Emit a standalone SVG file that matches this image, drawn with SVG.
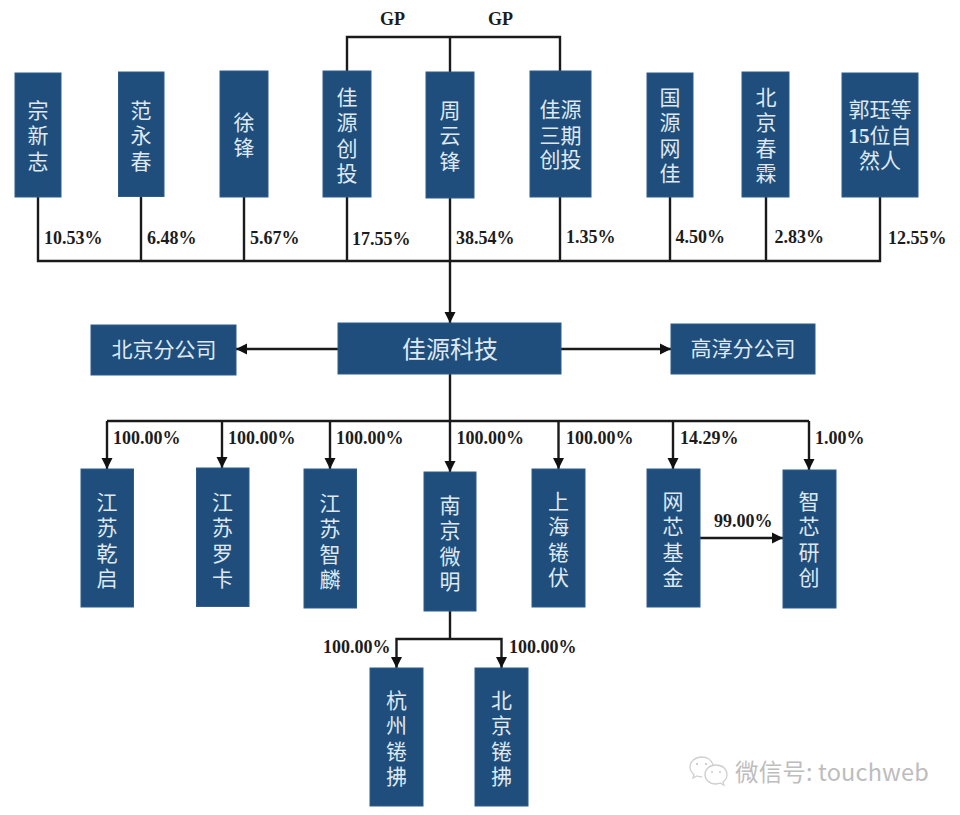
<svg xmlns="http://www.w3.org/2000/svg" width="960" height="815" viewBox="0 0 960 815">
<style>
.n{fill:#1f4e7c;stroke:#2d5c8a;stroke-width:1}
.t{font-family:"Noto Sans CJK SC","Noto Sans",sans-serif;font-size:21px;fill:#dfe8f1;text-anchor:middle}
.v{font-family:"Noto Sans CJK SC","Noto Sans",sans-serif;font-size:21px;fill:#dfe8f1;writing-mode:vertical-rl;text-anchor:start;letter-spacing:4.4px}
.p{font-family:"Liberation Serif",serif;font-weight:700;font-size:18px;fill:#1c1c1c}
.c{fill:none;stroke:#1a1a1a;stroke-width:2.4}
.a{fill:none;stroke:#1a1a1a;stroke-width:2.4;marker-end:url(#ah)}
.w{font-family:"Noto Sans CJK SC","Noto Sans",sans-serif;font-size:23.5px;fill:#bdbdbd;letter-spacing:.15px}
</style>
<defs>
<marker id="ah" markerUnits="userSpaceOnUse" markerWidth="12" markerHeight="12" refX="11" refY="6" orient="auto"><path d="M0 0.500L11 6L0 11.500Z" fill="#111"/></marker>
</defs>
<rect width="960" height="815" fill="#fff"/>
<g id="connectors">
<path class="c" d="M38 197V261H880V197M141 197V261M244 197V261M347 197V261M450 198V261M560 197V261M670 197V261M766 197V261"/>
<path class="c" d="M347 71V37H560V71M450 37V72"/>
<path class="a" d="M450 261V323"/>
<path class="a" d="M338 349H236"/>
<path class="a" d="M561 349H671"/>
<path class="c" d="M450 374V421M107 421H809"/>
<path class="a" d="M107 421V469"/>
<path class="a" d="M222 421V468"/>
<path class="a" d="M330 421V469"/>
<path class="a" d="M450 421V472"/>
<path class="a" d="M558.500 421V469"/>
<path class="a" d="M673 421V469"/>
<path class="a" d="M809 421V470"/>
<path class="a" d="M700 538H783"/>
<path class="c" d="M450 611V639"/>
<path class="a" d="M450 639H396.500V668"/>
<path class="a" d="M450 639H501.500V668"/>
</g>
<g id="n1"><rect class="n" x="15" y="73" width="46" height="124"/><text class="v" x="38" y="99.500">宗新志</text></g>
<g id="n2"><rect class="n" x="118.500" y="72" width="45.500" height="124.500"/><text class="v" x="141" y="99.500">范永春</text></g>
<g id="n3"><rect class="n" x="220" y="71" width="48" height="126"/><text class="v" x="244" y="111.500">徐锋</text></g>
<g id="n4"><rect class="n" x="323" y="71" width="48" height="126"/><text class="v" x="347" y="86.500">佳源创投</text></g>
<g id="n5"><rect class="n" x="426" y="72" width="48" height="126"/><text class="v" x="450" y="99.500">周云锋</text></g>
<g id="n6"><rect class="n" x="530" y="71" width="61" height="126"/><text class="t"><tspan x="560.500" y="117">佳源</tspan><tspan x="560.500" y="143">三期</tspan><tspan x="560.500" y="167">创投</tspan></text></g>
<g id="n7"><rect class="n" x="647" y="73" width="46" height="124"/><text class="v" x="670" y="86.500">国源网佳</text></g>
<g id="n8"><rect class="n" x="742" y="72" width="47" height="125"/><text class="v" x="766" y="86.500">北京春霖</text></g>
<g id="n9"><rect class="n" x="842" y="73" width="76" height="124"/><text class="t"><tspan x="880" y="117">郭珏等</tspan><tspan x="880" y="143"><tspan font-weight="700" font-family="Liberation Serif,serif">15</tspan>位自</tspan><tspan x="880" y="168">然人</tspan></text></g>
<g id="hub"><rect class="n" x="338" y="323" width="223" height="51"/><text class="t" x="450" y="358" style="font-size:24px">佳源科技</text></g>
<g id="bj"><rect class="n" x="91" y="325" width="145" height="50"/><text class="t" x="164" y="357">北京分公司</text></g>
<g id="gc"><rect class="n" x="671" y="324" width="144" height="50"/><text class="t" x="743" y="356">高淳分公司</text></g>
<g id="s1"><rect class="n" x="81" y="469" width="52.500" height="138"/><text class="v" x="107" y="491.500">江苏乾启</text></g>
<g id="s2"><rect class="n" x="196.500" y="468" width="52.500" height="138.500"/><text class="v" x="222.500" y="491.500">江苏罗卡</text></g>
<g id="s3"><rect class="n" x="304" y="469" width="52.500" height="139"/><text class="v" x="330" y="492.500">江苏智麟</text></g>
<g id="s4"><rect class="n" x="424" y="472" width="52" height="139"/><text class="v" x="450" y="494.500">南京微明</text></g>
<g id="s5"><rect class="n" x="532" y="469" width="53" height="138"/><text class="v" x="558.500" y="490.500">上海锩伏</text></g>
<g id="s6"><rect class="n" x="647" y="469" width="53" height="138"/><text class="v" x="673" y="490.500">网芯基金</text></g>
<g id="s7"><rect class="n" x="783" y="470" width="53" height="138"/><text class="v" x="809" y="490.500">智芯研创</text></g>
<g id="s8"><rect class="n" x="370" y="668" width="53" height="138"/><text class="v" x="396.500" y="689.500">杭州锩拂</text></g>
<g id="s9"><rect class="n" x="475" y="668" width="53" height="138"/><text class="v" x="501.500" y="689.500">北京锩拂</text></g>
<g id="labels">
<text class="p" x="380" y="25">GP</text><text class="p" x="488" y="25">GP</text>
<text class="p" x="44" y="244">10.53%</text><text class="p" x="147" y="244">6.48%</text><text class="p" x="250" y="244">5.67%</text><text class="p" x="352" y="244.500">17.55%</text><text class="p" x="456" y="243.500">38.54%</text><text class="p" x="566" y="243">1.35%</text><text class="p" x="675.500" y="243">4.50%</text><text class="p" x="774.500" y="243">2.83%</text><text class="p" x="888" y="244">12.55%</text>
<text class="p" x="113" y="444">100.00%</text><text class="p" x="228" y="444">100.00%</text><text class="p" x="336" y="444">100.00%</text><text class="p" x="456.500" y="444">100.00%</text><text class="p" x="566" y="444">100.00%</text><text class="p" x="680" y="444">14.29%</text><text class="p" x="815" y="444">1.00%</text>
<text class="p" x="714" y="527">99.00%</text>
<text class="p" x="323" y="653">100.00%</text><text class="p" x="509" y="653">100.00%</text>
</g>
<g id="watermark">
<path d="M702 757c-7 0-12 4.500-12 10c0 3 1.500 5.500 4 7.500l-1 3.500l4-2c1.500 .5 3 .8 5 .8M713 765c-1.500-5-6-8-11-8" fill="none" stroke="#cfcfcf" stroke-width="1.300"/>
<path d="M716 765c-6.500 0-11 4-11 9.500s4.500 9.500 11 9.500c1.500 0 3-.3 4.500-.8l3.500 2l-1-3.200c2.500-1.800 4-4.500 4-7.500c0-5.500-4.500-9.500-11-9.500Z" fill="#fff" stroke="#cfcfcf" stroke-width="1.300"/>
<circle cx="697" cy="764" r="1.200" fill="#cfcfcf"/><circle cx="706" cy="764" r="1.200" fill="#cfcfcf"/><circle cx="712" cy="772" r="1.100" fill="#cfcfcf"/><circle cx="720" cy="772" r="1.100" fill="#cfcfcf"/>
<text class="w" x="735" y="781">微信号: touchweb</text>
</g>
</svg>
